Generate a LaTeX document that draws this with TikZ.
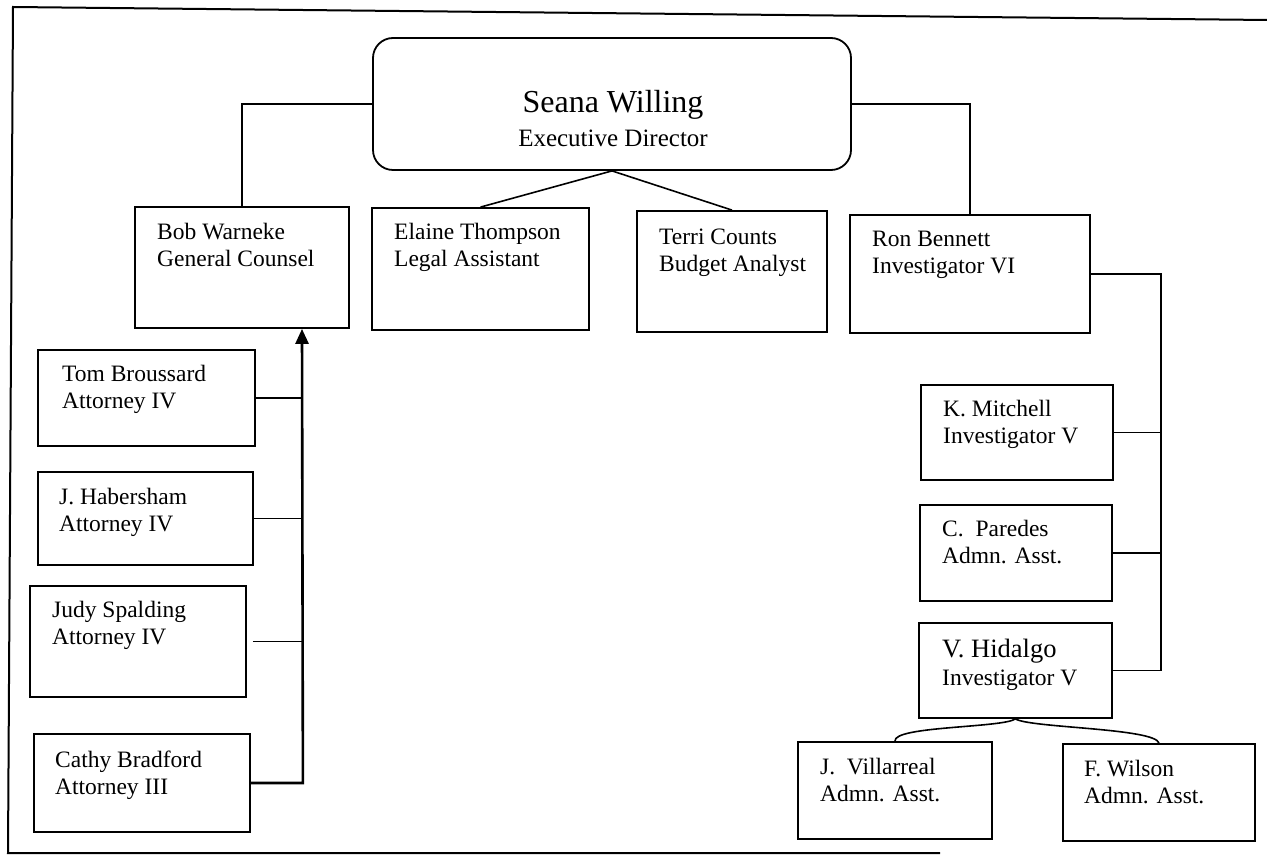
\documentclass[tikz,border=0pt]{standalone}
\usepackage{fontspec}
\setmainfont{Liberation Serif}
\usetikzlibrary{arrows.meta}
\begin{document}
\begin{tikzpicture}[x=1pt,y=-1pt,
  box/.style={draw, line width=1.8pt, inner sep=0pt},
  txt/.style={anchor=north west, inner sep=0pt, align=left, font=\fontsize{23.5}{27.5}\selectfont},
  conn/.style={line width=1.6pt},
  frame/.style={line width=2pt}]
\useasboundingbox (0,0) rectangle (1267,866);
% frame
\draw[frame] (1267,20) -- (13,7) -- (8,853) -- (940,853);
% boxes
\node[box, rounded corners=20pt, minimum width=478pt, minimum height=132pt] (seana) at (612,104) {};
\node[inner sep=0pt, anchor=base, font=\fontsize{32}{38}\selectfont] (seanat) at (613,113) {Seana Willing};
\node[inner sep=0pt, anchor=base, font=\fontsize{25}{28}\selectfont] (seanad) at (613,147) {Executive Director};
\node[box, minimum width=214pt, minimum height=121pt] (bob) at (242,267.5) {};
\node[txt] (bobt) at (157,222.5) {Bob Warneke\\General Counsel};
\node[box, minimum width=217pt, minimum height=122pt] (elaine) at (480.5,269) {};
\node[txt] (elainet) at (394,222.5) {Elaine Thompson\\Legal Assistant};
\node[box, minimum width=190pt, minimum height=121pt] (terri) at (732,271.5) {};
\node[txt] (territ) at (659,228.5) {Terri Counts\\Budget Analyst};
\node[box, minimum width=240pt, minimum height=118pt] (ron) at (970,274) {};
\node[txt] (ront) at (872,230.5) {Ron Bennett\\Investigator VI};
\node[box, minimum width=217pt, minimum height=96pt] (tom) at (146.5,398) {};
\node[txt] (tomt) at (62,364.5) {Tom Broussard\\Attorney IV};
\node[box, minimum width=215pt, minimum height=93pt] (hab) at (145.5,518.5) {};
\node[txt] (habt) at (59,487.5) {J. Habersham\\Attorney IV};
\node[box, minimum width=216pt, minimum height=111pt] (judy) at (138,641.5) {};
\node[txt] (judyt) at (52,600.5) {Judy Spalding\\Attorney IV};
\node[box, minimum width=216pt, minimum height=98pt] (cathy) at (142,783) {};
\node[txt] (cathyt) at (55,750.5) {Cathy Bradford\\Attorney III};
\node[box, minimum width=192pt, minimum height=95pt] (mitchell) at (1017,432.5) {};
\node[txt] (mitchellt) at (943,399.5) {K. Mitchell\\Investigator V};
\node[box, minimum width=192pt, minimum height=96pt] (paredes) at (1016,553) {};
\node[txt] (paredest) at (942,519.5) {C.~ Paredes\\Admn. Asst.};
\node[box, minimum width=193pt, minimum height=95pt] (hidalgo) at (1015.5,670.5) {};
\node[txt] (hidalgot) at (942,639) {{\fontsize{26.5}{28}\selectfont V. Hidalgo}\\Investigator V};
\node[box, minimum width=194pt, minimum height=97pt] (villa) at (895,790.5) {};
\node[txt] (villat) at (820,757.5) {J.~ Villarreal\\Admn. Asst.};
\node[box, minimum width=192pt, minimum height=97pt] (wilson) at (1159,792.5) {};
\node[txt] (wilsont) at (1084,759.5) {F. Wilson\\Admn. Asst.};
% connectors top
\draw[conn] (seana.west) -| (bob.north);
\draw[conn] (seana.east) -| (ron.north);
\draw[conn] (elaine.north) -- (seana.south) -- (terri.north);
% left bus
\path (bob.south) ++(60,0) coordinate (ltop);
\path (cathy.east) ++(52,0) coordinate (lbot);
\draw[line width=2.6pt, -{Triangle[width=13pt,length=15pt]}] (cathy.east) -- (lbot) -- (ltop);
\draw[conn] (tom.east) -- (tom.east -| ltop);
\draw[conn] (hab.east) -- (hab.east -| ltop);
\draw[conn] ([xshift=6pt]judy.east) -- (judy.east -| ltop);
% right bus
\path (ron.east) ++(70,0) coordinate (rtop);
\draw[conn] (ron.east) -- (rtop) |- (hidalgo.east);
\draw[conn] (mitchell.east) -- (mitchell.east -| rtop);
\draw[conn] (paredes.east) -- (paredes.east -| rtop);
% curves
\draw[conn] (hidalgo.south) .. controls (1002,728) and (893,726) .. (villa.north);
\draw[conn] (hidalgo.south) .. controls (1030,728) and (1155,728) .. (wilson.north);
\end{tikzpicture}
\end{document}
